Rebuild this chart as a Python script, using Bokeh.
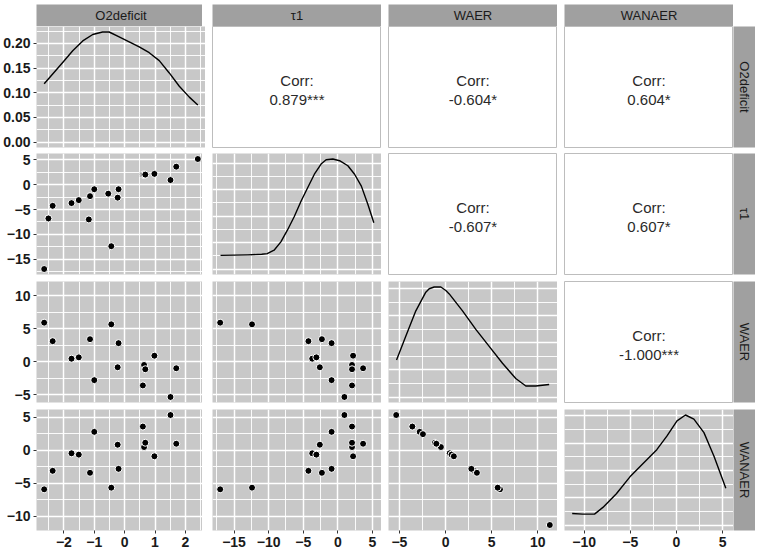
import math

import numpy as np
from bokeh.core.properties import value
from bokeh.embed import file_html
from bokeh.layouts import gridplot
from bokeh.models import ColumnDataSource, FixedTicker, NumeralTickFormatter, Range1d
from bokeh.plotting import figure
from bokeh.resources import INLINE

nan = float("nan")

# ---- data -----------------------------------------------------------------
variables = ["O2deficit", "τ1", "WAER", "WANAER"]

o2deficit = [-2.65, -2.37, -1.75, -1.51, -1.14, -1.00, -0.44, -0.23, -0.20, 0.60,
             0.64, 0.68, 0.98, 1.70, 1.51, -2.51, -1.18, -0.54, 2.41, nan, nan]
tau1 = [-17.0, -4.25, -3.7, -3.1, -2.3, -0.9, -12.4, -2.6, -0.9, 2.05,
        2.05, 2.05, 2.2, 3.65, 0.95, -6.8, -7.0, -1.8, 5.2, nan, nan]
waer = [5.9, 3.1, 0.45, 0.65, 3.4, -2.8, 5.65, -0.85, 2.8, -3.6,
        -0.5, -1.15, 0.9, -1.0, -5.35, nan, nan, nan, nan, 11.3, -2.45]
wanaer = [-5.9, -3.1, -0.45, -0.65, -3.4, 2.8, -5.65, 0.85, -2.8, 3.6,
          0.5, 1.15, -0.9, 1.0, 5.35, nan, nan, nan, nan, -11.3, 2.45]

# kernel density curves on the diagonal
o2_dens_x = [-2.65, -2.37, -2.04, -1.71, -1.38, -1.05, -0.73, -0.51, -0.18, 0.15,
             0.48, 0.81, 1.14, 1.47, 1.80, 2.13, 2.41]
o2_dens_y = [0.118, 0.138, 0.161, 0.185, 0.205, 0.218, 0.223, 0.223, 0.213, 0.203,
             0.193, 0.181, 0.165, 0.140, 0.113, 0.091, 0.075]
tau_dens_x = [-16.95, -15.0, -13.0, -11.0, -10.2, -9.21, -8.23, -7.27, -6.29, -5.32,
              -4.36, -3.39, -2.42, -1.69, -0.72, 0.25, 1.45, 2.42, 3.40, 4.36, 5.2]
tau_dens_y = [0.0103, 0.0105, 0.0107, 0.0111, 0.0116, 0.0142, 0.0205, 0.0295, 0.0397, 0.0512,
              0.0614, 0.0716, 0.0793, 0.0825, 0.0831, 0.0818, 0.0780, 0.0716, 0.0626, 0.0486,
              0.0350]
waer_dens_x = [-5.31, -4.31, -3.22, -2.14, -1.77, -1.23, -0.51, 0.03, 0.40, 1.84, 3.28,
               4.73, 6.17, 7.61, 8.70, 9.78, 11.23]
waer_dens_y = [0.0274, 0.0449, 0.0636, 0.0774, 0.0799, 0.0812, 0.0812, 0.0786, 0.0761, 0.0636,
               0.0499, 0.0374, 0.0249, 0.0137, 0.0081, 0.0081, 0.0092]
wanaer_dens_x = [-11.30, -10.16, -8.88, -7.97, -6.51, -5.04, -3.59, -2.13, -1.04, 0.06,
                 0.98, 1.89, 2.98, 4.08, 5.35]
wanaer_dens_y = [0.0084, 0.0080, 0.0080, 0.0129, 0.0229, 0.0353, 0.0453, 0.0552, 0.0651, 0.0763,
                 0.0806, 0.0776, 0.0677, 0.0502, 0.0270]

# correlation labels (upper triangle)
corr_pairs = [(0, 1), (0, 2), (0, 3), (1, 2), (1, 3), (2, 3)]
corr_values = [0.879, -0.604, 0.604, -0.607, 0.607, -1.000]
corr_stars = ["***", "*", "*", "*", "*", "***"]

# tick positions
o2_ticks = [-2, -1, 0, 1, 2]
tau_ticks = [-15, -10, -5, 0, 5]
waer_ticks = [-5, 0, 5, 10]
wanaer_ticks = [-10, -5, 0, 5]
o2_dens_ticks = [0.0, 0.05, 0.10, 0.15, 0.20]
dens_ticks = [0.0, 0.02, 0.04, 0.06, 0.08]

columns = [o2deficit, tau1, waer, wanaer]
var_ticks = [o2_ticks, tau_ticks, waer_ticks, wanaer_ticks]
dens_curves = [(o2_dens_x, o2_dens_y), (tau_dens_x, tau_dens_y),
               (waer_dens_x, waer_dens_y), (wanaer_dens_x, wanaer_dens_y)]
dens_ticks_all = [o2_dens_ticks, dens_ticks, dens_ticks, dens_ticks]

# ---- styling ----------------------------------------------------------------
PANEL_W, PANEL_H = 169, 121
LEFT_AXIS = 33
COL_GAP = 7
ROW_BOTTOM = [6, 7, 7, 22]   # space below each panel row (last one holds the x axis)
STRIP = 22
TOP_PAD = 4

FONT = "Liberation Sans"
PANEL_BG = "#C8C8C8"
STRIP_BG = "#A0A0A0"
TEXT_COL = "#1A1A1A"


def padded(lo, hi, frac=0.05):
    span = hi - lo
    return Range1d(lo - frac * span, hi + frac * span)


def minor_of(ticks, rng):
    step = ticks[1] - ticks[0]
    cand = [ticks[0] - step / 2] + [t + step / 2 for t in ticks]
    return [c for c in cand if rng.start <= c <= rng.end]


def var_range(k):
    arr = np.array(columns[k], dtype=float)
    return padded(np.nanmin(arr), np.nanmax(arr))


def dens_range(k):
    top = max(dens_curves[k][1])
    return padded(0.0, top)


def style_axis(ax, ticks, minor):
    ax.ticker = FixedTicker(ticks=ticks, minor_ticks=minor)
    ax.major_label_text_font = FONT
    ax.major_label_text_font_size = "14px"
    ax.major_label_text_font_style = "bold"
    ax.major_label_text_color = TEXT_COL
    ax.major_tick_line_color = "#333333"
    ax.major_tick_out = 3
    ax.major_tick_in = 0
    ax.minor_tick_line_color = None
    ax.axis_line_color = None
    ax.major_label_standoff = 2


def panel(i, j, xr, yr):
    p = figure(frame_width=PANEL_W, frame_height=PANEL_H, x_range=xr, y_range=yr,
               output_backend="svg", toolbar_location=None,
               x_axis_location="below" if i == 3 else None,
               y_axis_location="left" if j == 0 else None,
               min_border_left=LEFT_AXIS if j == 0 else COL_GAP,
               min_border_right=0,
               min_border_top=0,
               min_border_bottom=ROW_BOTTOM[i])
    p.background_fill_color = PANEL_BG
    p.border_fill_color = "white"
    p.outline_line_color = None
    return p


def add_grids(p, xt, xminor, yt, yminor):
    p.xgrid.ticker = FixedTicker(ticks=xt, minor_ticks=xminor)
    p.ygrid.ticker = FixedTicker(ticks=yt, minor_ticks=yminor)
    for g in (p.xgrid, p.ygrid):
        g.grid_line_color = "white"
        g.grid_line_width = 1.5
        g.minor_grid_line_color = "white"
        g.minor_grid_line_width = 0.9


grid_rows = []

# top strip row
strip_row = []
for j, name in enumerate(variables):
    s = figure(frame_width=PANEL_W, frame_height=STRIP, x_range=(0, 1), y_range=(0, 1),
               output_backend="svg", toolbar_location=None,
               x_axis_location=None, y_axis_location=None,
               min_border_left=LEFT_AXIS if j == 0 else COL_GAP, min_border_right=0,
               min_border_top=TOP_PAD, min_border_bottom=0)
    s.background_fill_color = STRIP_BG
    s.border_fill_color = "white"
    s.outline_line_color = None
    s.xgrid.visible = False
    s.ygrid.visible = False
    s.text(x=[0.5], y=[0.5], text=[name], text_align="center", text_baseline="middle",
           text_font=value(FONT), text_font_size="13px", text_color=TEXT_COL)
    strip_row.append(s)
strip_row.append(None)
grid_rows.append(strip_row)

for i in range(4):
    row = []
    for j in range(4):
        xr = var_range(j)
        x_minor = minor_of(var_ticks[j], xr)
        if i == j:
            yr = dens_range(i)
            yt = dens_ticks_all[i]
            y_minor = minor_of(yt, yr)
            p = panel(i, j, xr, yr)
            add_grids(p, var_ticks[j], x_minor, yt, y_minor)
            dx, dy = dens_curves[i]
            p.line(dx, dy, line_color="black", line_width=1.4, line_join="round")
            if j == 0:
                style_axis(p.yaxis[0], yt, y_minor)
                p.yaxis[0].formatter = NumeralTickFormatter(format="0.00")
            if i == 3:
                style_axis(p.xaxis[0], var_ticks[j], x_minor)
        elif i > j:
            yr = var_range(i)
            y_minor = minor_of(var_ticks[i], yr)
            p = panel(i, j, xr, yr)
            add_grids(p, var_ticks[j], x_minor, var_ticks[i], y_minor)
            xs = np.array(columns[j], dtype=float)
            ys = np.array(columns[i], dtype=float)
            ok = ~(np.isnan(xs) | np.isnan(ys))
            src = ColumnDataSource(dict(x=xs[ok], y=ys[ok]))
            p.scatter("x", "y", source=src, size=7, fill_color="black",
                      line_color="white", line_width=1)
            if j == 0:
                style_axis(p.yaxis[0], var_ticks[i], y_minor)
            if i == 3:
                style_axis(p.xaxis[0], var_ticks[j], x_minor)
        else:
            p = panel(i, j, Range1d(0, 1), Range1d(0, 1))
            p.background_fill_color = "white"
            p.outline_line_color = "#BDBDBD"
            p.outline_line_width = 1
            p.xgrid.visible = False
            p.ygrid.visible = False
            k = corr_pairs.index((i, j))
            label = f"{corr_values[k]:.3f}{corr_stars[k]}"
            p.text(x=[0.5, 0.5], y=[0.5, 0.5], text=["Corr:", label],
                   y_offset=[-7, 12], text_align="center", text_baseline="middle",
                   text_font=value(FONT), text_font_size="15px", text_color="#2A2A2A")
        row.append(p)

    # right-hand strip with the row variable
    rs = figure(frame_width=STRIP, frame_height=PANEL_H, x_range=(0, 1), y_range=(0, 1),
                output_backend="svg", toolbar_location=None,
                x_axis_location=None, y_axis_location=None,
                min_border_left=0, min_border_right=0,
                min_border_top=0, min_border_bottom=ROW_BOTTOM[i])
    rs.background_fill_color = STRIP_BG
    rs.border_fill_color = "white"
    rs.outline_line_color = None
    rs.xgrid.visible = False
    rs.ygrid.visible = False
    rs.text(x=[0.5], y=[0.5], text=[variables[i]], angle=-math.pi / 2,
            text_align="center", text_baseline="middle",
            text_font=value(FONT), text_font_size="13px", text_color=TEXT_COL)
    row.append(rs)
    grid_rows.append(row)

layout = gridplot(grid_rows, toolbar_location=None)

with open("out.html", "w") as f:
    f.write(file_html(layout, INLINE))
